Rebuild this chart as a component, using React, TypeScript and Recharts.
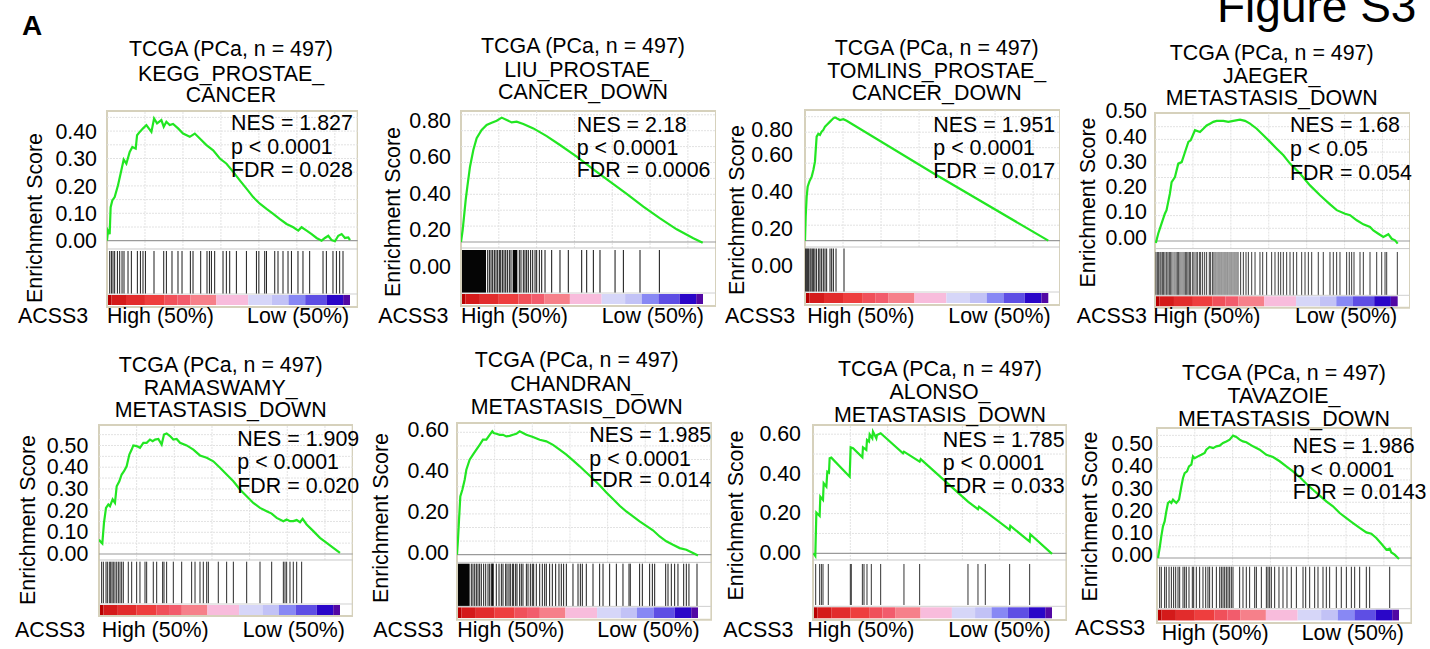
import React from 'react';
import { ComposedChart, Line, XAxis, YAxis, ReferenceLine, ReferenceArea } from 'recharts';

const FONT = '"Liberation Sans", Arial, Helvetica, sans-serif';
const FS = 21.4;
const LIST_LEN = 32; // ranked list length (thousands of genes)
const rankGrid = [5, 10, 15, 20, 25, 30];

// ranked-list colour bar (rank boundaries, thousands) and colours
const cbarEdges = [0, 0.6, 2.5, 5.0, 7.6, 9.3, 11.0, 14.4, 18.6, 21.7, 23.9, 26.1, 28.9, 31.1, 32];
const cbarColors = ['#b80000', '#d41a1a', '#e22c2c', '#ee3e3e', '#f0505a', '#f25c6c', '#f6808a', '#f8bcdc', '#d6d6f8', '#c2c2f6', '#8888f4', '#5e4ee4', '#2a06c8', '#5208a4'];

const titles = [
  ['TCGA (PCa, n = 497)', 'KEGG_PROSTAE_', 'CANCER'],
  ['TCGA (PCa, n = 497)', 'LIU_PROSTAE_', 'CANCER_DOWN'],
  ['TCGA (PCa, n = 497)', 'TOMLINS_PROSTAE_', 'CANCER_DOWN'],
  ['TCGA (PCa, n = 497)', 'JAEGER_', 'METASTASIS_DOWN'],
  ['TCGA (PCa, n = 497)', 'RAMASWAMY_', 'METASTASIS_DOWN'],
  ['TCGA (PCa, n = 497)', 'CHANDRAN_', 'METASTASIS_DOWN'],
  ['TCGA (PCa, n = 497)', 'ALONSO_', 'METASTASIS_DOWN'],
  ['TCGA (PCa, n = 497)', 'TAVAZOIE_', 'METASTASIS_DOWN'],
];
const stats = [
  ['NES = 1.827', 'p < 0.0001', 'FDR = 0.028'],
  ['NES = 2.18', 'p < 0.0001', 'FDR = 0.0006'],
  ['NES = 1.951', 'p < 0.0001', 'FDR = 0.017'],
  ['NES = 1.68', 'p < 0.05', 'FDR = 0.054'],
  ['NES = 1.909', 'p < 0.0001', 'FDR = 0.020'],
  ['NES = 1.985', 'p < 0.0001', 'FDR = 0.014'],
  ['NES = 1.785', 'p < 0.0001', 'FDR = 0.033'],
  ['NES = 1.986', 'p < 0.0001', 'FDR = 0.0143'],
];
const yTicks01 = [0, 0.1, 0.2, 0.3, 0.4];
const yTicks01b = [0, 0.1, 0.2, 0.3, 0.4, 0.5];
const yTicks02 = [0, 0.2, 0.4, 0.6, 0.8];
const yTicks02b = [0, 0.2, 0.4, 0.6];

// ---- running enrichment score curves [rank (thousands), ES] and hit ranks ----
const keggCurve = [[0,0],[0.13,0.037],[0.35,0.024],[0.48,0.122],[0.70,0.147],[1.01,0.159],[1.45,0.202],[1.89,0.257],[2.20,0.296],[2.55,0.281],[2.99,0.324],[3.34,0.342],[3.78,0.336],[3.96,0.385],[4.31,0.397],[4.75,0.410],[5.19,0.422],[5.85,0.397],[6.20,0.446],[6.59,0.428],[7.16,0.440],[7.47,0.416],[7.82,0.434],[8.26,0.422],[8.70,0.426],[9.36,0.410],[10.02,0.391],[10.90,0.379],[11.56,0.391],[12.22,0.373],[13.10,0.349],[13.98,0.330],[14.86,0.300],[15.74,0.281],[16.62,0.251],[17.49,0.220],[18.37,0.190],[19.25,0.159],[20.13,0.135],[21.01,0.116],[21.89,0.098],[22.77,0.079],[23.65,0.061],[24.53,0.049],[25.19,0.037],[25.63,0.049],[26.29,0.037],[26.95,0.024],[27.60,0.010],[28.26,0.000],[28.70,0.010],[29.14,0.018],[29.58,0.002],[30.02,-0.002],[30.46,0.018],[30.90,0.024],[31.34,0.010],[31.78,0.012],[32.0,0.002]];
const keggHits = [0.36,0.58,0.79,1.01,1.37,1.67,1.98,2.24,2.77,3.21,4.0,4.4,4.74,5.06,6.19,7.47,7.82,8.56,9.35,9.88,10.98,11.33,12.34,13.17,13.49,13.75,14.18,15.28,15.72,16.16,17.04,18.36,19.68,20.0,20.77,21.0,22.09,22.52,23.18,23.84,24.29,25.15,25.81,26.69,28.45,28.89,29.76,30.21,30.64,31.08];

const liuCurve = [[0,0.1315],[0.22,0.197],[0.40,0.270],[0.62,0.362],[0.84,0.435],[1.19,0.544],[1.63,0.636],[2.07,0.700],[2.73,0.745],[3.39,0.773],[4.06,0.785],[4.72,0.796],[5.38,0.813],[6.04,0.800],[6.70,0.787],[7.36,0.791],[8.24,0.778],[9.57,0.754],[11.33,0.712],[13.09,0.663],[15.30,0.599],[17.50,0.530],[19.70,0.462],[21.91,0.395],[24.11,0.325],[26.32,0.261],[28.52,0.201],[30.72,0.152],[31.96,0.128]];
const liuHits = [3.53,3.75,3.97,4.19,4.41,4.63,4.85,5.07,5.25,5.47,5.69,5.91,6.13,6.39,6.61,7.71,7.93,8.24,8.46,8.68,8.90,9.21,9.48,9.79,10.01,10.36,10.67,11.11,11.99,13.09,14.19,15.96,16.62,17.50,18.38,20.37,21.47,23.67,26.23];
const liuBandStart = [0, 6.83];
const liuBandEnd = [3.31, 7.45];

const tomlinsCurve = [[0,0.132],[0.09,0.262],[0.22,0.370],[0.35,0.424],[0.57,0.452],[0.88,0.479],[1.10,0.515],[1.31,0.560],[1.53,0.696],[1.75,0.711],[1.97,0.705],[2.19,0.723],[2.41,0.732],[2.63,0.750],[2.85,0.759],[3.29,0.777],[3.73,0.795],[3.94,0.800],[4.16,0.795],[4.60,0.786],[5.04,0.790],[5.48,0.782],[16.88,0.497],[32.0,0.132]];
const tomlinsHits = [0.088,0.22,0.35,0.48,0.66,0.79,0.96,1.14,1.31,1.53,1.80,1.97,2.19,2.41,2.63,2.85,3.29,3.51,3.73,4.08,5.13];

const jaegerCurve = [[0.11,-0.024],[0.42,0.013],[0.86,0.053],[1.30,0.092],[1.52,0.106],[1.96,0.171],[2.19,0.217],[2.63,0.237],[3.07,0.290],[3.52,0.296],[3.96,0.336],[4.40,0.376],[4.70,0.382],[5.27,0.422],[5.93,0.415],[6.37,0.428],[6.81,0.441],[7.25,0.448],[7.69,0.455],[8.13,0.459],[9.01,0.459],[9.67,0.455],[10.33,0.459],[11.21,0.464],[11.87,0.459],[12.53,0.448],[13.41,0.428],[14.29,0.402],[15.17,0.376],[16.05,0.349],[16.93,0.323],[17.80,0.290],[19.12,0.251],[20.44,0.204],[21.76,0.165],[23.08,0.129],[23.96,0.106],[25.06,0.092],[25.72,0.086],[26.60,0.066],[27.47,0.050],[28.35,0.040],[28.79,0.026],[29.45,0.013],[30.11,0.000],[30.77,0.011],[31.21,-0.007],[31.65,-0.013],[32.0,-0.026]];
const jaegerHits = [0.13,0.31,0.48,0.66,0.79,0.97,1.14,1.32,1.54,1.71,1.89,2.07,2.24,2.51,2.77,2.94,3.12,3.30,3.56,3.82,4.00,4.18,4.35,4.53,4.70,4.97,5.14,5.41,5.58,5.85,6.02,6.28,6.55,6.81,7.16,7.34,7.60,7.78,8.04,8.31,8.57,8.83,9.10,9.36,9.62,9.89,10.15,10.42,10.68,10.94,11.29,11.65,12.0,12.31,12.75,13.19,13.84,14.2,14.72,15.38,15.82,16.26,16.57,16.92,17.36,17.80,18.24,18.68,19.34,19.78,20.22,20.66,21.53,22.19,23.07,23.51,23.95,24.39,25.27,25.62,25.93,26.24,27.03,27.47,28.35,29.23,29.89,30.33,30.55,31.95];

const ramaCurve = [[0,0.0645],[0.13,0.057],[0.44,0.046],[0.66,0.141],[0.93,0.210],[1.24,0.226],[1.46,0.218],[1.81,0.249],[2.12,0.233],[2.35,0.310],[2.70,0.333],[3.01,0.364],[3.32,0.379],[3.67,0.402],[4.03,0.456],[4.34,0.479],[4.56,0.498],[5.0,0.495],[5.44,0.487],[5.89,0.510],[6.33,0.510],[6.77,0.525],[7.13,0.518],[7.44,0.525],[7.88,0.528],[8.32,0.502],[8.63,0.548],[8.98,0.553],[9.43,0.541],[9.87,0.525],[10.31,0.528],[10.76,0.510],[11.64,0.498],[12.53,0.479],[13.41,0.452],[14.30,0.441],[15.18,0.425],[16.07,0.395],[16.95,0.364],[17.84,0.333],[18.72,0.295],[19.61,0.264],[20.49,0.233],[21.38,0.210],[22.26,0.195],[22.93,0.184],[23.59,0.164],[24.48,0.149],[24.92,0.157],[25.36,0.149],[25.80,0.149],[26.25,0.154],[26.69,0.144],[27.04,0.160],[27.57,0.134],[28.46,0.103],[29.34,0.072],[30.23,0.049],[31.11,0.026],[32.0,0.003]];
const ramaHits = [0.35,0.58,0.93,1.11,1.37,1.55,1.73,1.90,2.12,2.35,2.57,2.79,3.01,3.23,3.89,4.34,5.0,5.44,6.11,6.33,7.21,7.66,8.45,8.63,8.98,9.87,10.98,12.30,12.75,13.41,13.85,14.30,14.52,15.84,16.95,17.84,19.61,21.38,22.93,24.48,24.70,24.92,25.36,25.80,26.25,26.91];

const chandranCurve = [[0,-0.011],[0.13,0.062],[0.27,0.160],[0.44,0.274],[0.71,0.306],[1.02,0.355],[1.24,0.404],[1.68,0.453],[2.12,0.478],[2.57,0.502],[3.01,0.526],[3.45,0.551],[3.89,0.551],[4.34,0.575],[4.69,0.592],[4.87,0.584],[5.22,0.580],[5.67,0.575],[6.11,0.575],[6.55,0.567],[6.99,0.570],[7.44,0.575],[7.88,0.580],[8.32,0.592],[8.76,0.584],[9.21,0.575],[10.09,0.564],[10.98,0.551],[11.86,0.543],[12.75,0.526],[13.63,0.502],[14.52,0.478],[15.40,0.450],[16.29,0.421],[17.17,0.391],[18.06,0.360],[18.94,0.328],[19.83,0.293],[20.71,0.261],[21.60,0.228],[22.48,0.200],[23.37,0.176],[24.25,0.152],[25.14,0.130],[26.02,0.108],[26.91,0.078],[27.79,0.054],[28.68,0.037],[29.57,0.021],[30.45,0.013],[31.34,-0.003],[32.0,-0.015]];
const chandranHits = [1.90,2.12,2.35,2.57,2.79,3.01,3.23,3.54,3.81,4.12,4.34,4.56,4.78,5.22,5.58,5.89,6.11,6.46,6.64,6.90,7.08,7.35,7.52,7.79,7.97,8.32,8.54,8.76,9.21,9.43,9.74,10.0,10.18,10.53,10.98,11.33,11.64,11.86,12.30,12.66,13.10,13.54,13.85,14.16,14.52,15.40,16.07,16.38,16.64,17.17,18.06,18.94,19.39,20.27,21.16,22.04,22.84,23.01,24.25,24.61,25.58,25.94,26.25,27.71,28.02,28.46,28.90,29.34,30.10,30.45,30.80,31.87];
const chandranBandStart = [0.13, 4.6];
const chandranBandEnd = [1.68, 4.85];

const alonsoCurve = [[0.09,-0.005],[0.31,-0.018],[0.45,0.200],[0.89,0.183],[0.98,0.280],[1.34,0.264],[1.43,0.348],[1.79,0.331],[1.92,0.406],[2.14,0.401],[2.23,0.474],[2.45,0.477],[4.91,0.381],[5.04,0.529],[5.36,0.524],[6.61,0.479],[6.69,0.529],[7.14,0.516],[7.23,0.566],[7.50,0.558],[7.59,0.594],[7.94,0.574],[8.03,0.608],[8.48,0.574],[8.57,0.591],[9.06,0.600],[12.05,0.499],[12.18,0.507],[14.28,0.457],[14.42,0.469],[20.75,0.255],[22.09,0.217],[22.23,0.230],[23.21,0.202],[26.33,0.113],[26.42,0.133],[29.01,0.054],[29.10,0.091],[32.0,-0.008]];
const alonsoHits = [0.36,0.89,1.12,1.34,2.05,5.0,5.13,6.61,6.83,7.23,7.81,9.06,12.18,14.28,20.75,22.09,23.07,26.33,29.01];

const tavCurve = [[0.13,-0.015],[0.35,0.030],[0.57,0.082],[0.79,0.127],[1.01,0.149],[1.23,0.194],[1.45,0.232],[1.68,0.239],[1.90,0.232],[2.12,0.247],[2.34,0.239],[2.56,0.232],[2.91,0.247],[3.22,0.306],[3.44,0.344],[3.66,0.366],[3.97,0.374],[4.23,0.396],[4.54,0.404],[4.76,0.441],[4.98,0.433],[5.42,0.441],[5.86,0.448],[6.30,0.456],[6.52,0.471],[6.96,0.483],[7.41,0.478],[7.85,0.486],[8.29,0.489],[8.73,0.501],[9.17,0.508],[9.61,0.516],[10.05,0.534],[10.49,0.528],[10.93,0.516],[11.37,0.508],[11.81,0.504],[12.70,0.486],[13.58,0.471],[14.46,0.448],[15.34,0.438],[16.22,0.419],[17.10,0.396],[17.98,0.374],[18.87,0.348],[19.75,0.318],[20.63,0.291],[21.51,0.265],[22.39,0.239],[23.27,0.217],[24.16,0.187],[25.04,0.164],[25.92,0.142],[26.80,0.120],[27.68,0.100],[28.34,0.094],[29.00,0.075],[29.67,0.049],[30.33,0.022],[30.77,0.027],[30.99,0.010],[31.43,0.000],[32.0,-0.019]];
const tavHits = [0.35,0.57,1.01,1.23,1.59,1.90,2.20,2.47,2.78,3.00,3.44,3.66,3.88,4.23,4.67,4.85,5.20,5.64,6.08,6.44,6.74,6.96,7.32,7.85,8.29,8.51,8.73,8.95,9.17,9.39,9.61,9.83,10.05,10.93,11.37,11.81,12.25,12.92,13.14,13.80,14.46,14.68,14.90,15.12,15.56,16.13,16.66,17.19,17.76,18.43,19.31,19.66,20.19,20.85,21.29,21.95,22.39,22.83,23.71,24.37,25.04,25.70,26.14,26.80,27.68,28.12,30.77];

type Geo = {
  L: number; T: number; R: number; B: number; cbarR: number;
  zero: number; sep: number; hitsTop: number; hitsBot: number; cbarTop: number; cbarBot: number;
  tickZero: number; ppu: number; gridPx: number; tickGap: number;
};
type TextPos = {
  titleCx: number; titleY: number[]; statX: number; statY: number[];
  ylabX: number; ylabY: number; acssX: number; highX: number; lowX: number; labY: number; hlY?: number;
};

const panels = [
  { curve: keggCurve, hits: keggHits, bands: [] as number[][], ticks: yTicks01, offs: {}, hitColor: '#1c1c1c',
    g: { L: 107.3, T: 111, R: 358, B: 307, cbarR: 350.3, zero: 240.7, sep: 249, hitsTop: 251, hitsBot: 294, cbarTop: 295, cbarBot: 305, tickZero: 240.7, ppu: 274, gridPx: 13.7, tickGap: 10 },
    t: { titleCx: 231, titleY: [56, 80.5, 102], statX: 231, statY: [130, 153.5, 177], ylabX: 34, ylabY: 218, acssX: 18, highX: 107, lowX: 247, labY: 323 } },
  { curve: liuCurve, hits: liuHits, bands: liuBandStart.map((s, i) => [s, liuBandEnd[i]]), ticks: yTicks02, offs: {}, hitColor: '#111',
    g: { L: 461, T: 111, R: 716, B: 306, cbarR: 703, zero: 242, sep: 248, hitsTop: 250, hitsBot: 293, cbarTop: 294, cbarBot: 304, tickZero: 266, ppu: 182.5, gridPx: 15.9, tickGap: 10 },
    t: { titleCx: 583, titleY: [53, 77, 98.5], statX: 576.7, statY: [131.7, 155, 177], ylabX: 392.3, ylabY: 212, acssX: 378.3, highX: 461, lowX: 601.7, labY: 323.3 } },
  { curve: tomlinsCurve, hits: tomlinsHits, bands: [] as number[][], ticks: yTicks02, offs: { '0.80': 12 }, hitColor: '#1c1c1c',
    g: { L: 805, T: 110, R: 1060, B: 305, cbarR: 1048.3, zero: 240.7, sep: 247, hitsTop: 248.5, hitsBot: 292, cbarTop: 293, cbarBot: 303, tickZero: 265, ppu: 184.5, gridPx: 15.5, tickGap: 12 },
    t: { titleCx: 936.7, titleY: [55, 78.3, 100], statX: 933.3, statY: [131.7, 155, 178.3], ylabX: 736.7, ylabY: 210, acssX: 725, highX: 807.3, lowX: 948.3, labY: 323 } },
  { curve: jaegerCurve, hits: jaegerHits, bands: [] as number[][], ticks: yTicks01b, offs: {}, hitColor: '#3a3a3a',
    g: { L: 1155, T: 112.7, R: 1410, B: 307.5, cbarR: 1397.7, zero: 240.7, sep: 248.3, hitsTop: 251.7, hitsBot: 295, cbarTop: 296, cbarBot: 306, tickZero: 236.7, ppu: 253, gridPx: 12.7, tickGap: 8 },
    t: { titleCx: 1271.7, titleY: [60, 83.3, 105], statX: 1290, statY: [131.7, 156, 180], ylabX: 1087.3, ylabY: 202.5, acssX: 1076.7, highX: 1153.3, lowX: 1295, labY: 322.7 } },
  { curve: ramaCurve, hits: ramaHits, bands: [] as number[][], ticks: yTicks01b, offs: {}, hitColor: '#2a2a2a',
    g: { L: 99, T: 425, R: 352.7, B: 616, cbarR: 340, zero: 554, sep: 560, hitsTop: 561.7, hitsBot: 603.3, cbarTop: 605, cbarBot: 615, tickZero: 553.5, ppu: 217, gridPx: 10.85, tickGap: 10.7 },
    t: { titleCx: 220.7, titleY: [371.7, 395, 417.3], statX: 237.3, statY: [446, 469.3, 492.7], ylabX: 27.3, ylabY: 520, acssX: 15, highX: 101.7, lowX: 242.7, labY: 636.7 } },
  { curve: chandranCurve, hits: chandranHits, bands: chandranBandStart.map((s, i) => [s, chandranBandEnd[i]]), ticks: yTicks02b, offs: {}, hitColor: '#1c1c1c',
    g: { L: 457.3, T: 423.3, R: 711.7, B: 620, cbarR: 698.3, zero: 555, sep: 562.7, hitsTop: 564, hitsBot: 606.7, cbarTop: 607.7, cbarBot: 618.3, tickZero: 552.7, ppu: 204.5, gridPx: 13.6, tickGap: 8 },
    t: { titleCx: 576.7, titleY: [367.3, 390.7, 414], statX: 589.3, statY: [441.7, 466, 487.3], ylabX: 380.7, ylabY: 518, acssX: 373.3, highX: 457.3, lowX: 597.3, labY: 636.7 } },
  { curve: alonsoCurve, hits: alonsoHits, bands: [] as number[][], ticks: yTicks02b, offs: {}, hitColor: '#333',
    g: { L: 813.3, T: 425, R: 1066.7, B: 620, cbarR: 1052.3, zero: 553.3, sep: 560, hitsTop: 564, hitsBot: 605, cbarTop: 607.3, cbarBot: 618.3, tickZero: 552.3, ppu: 198.5, gridPx: 19.85, tickGap: 12 },
    t: { titleCx: 940, titleY: [376, 399.3, 421.7], statX: 942.7, statY: [446.7, 470, 492.7], ylabX: 735.7, ylabY: 515.5, acssX: 723.3, highX: 807.3, lowX: 948.3, labY: 636.7 } },
  { curve: tavCurve, hits: tavHits, bands: [] as number[][], ticks: yTicks01b, offs: {}, hitColor: '#2a2a2a',
    g: { L: 1157.3, T: 428.3, R: 1411.7, B: 623.3, cbarR: 1399.3, zero: 558.3, sep: 566, hitsTop: 567, hitsBot: 608.3, cbarTop: 610, cbarBot: 620.7, tickZero: 555, ppu: 223, gridPx: 11.15, tickGap: 4 },
    t: { titleCx: 1284, titleY: [380, 403.3, 426], statX: 1292.7, statY: [453.3, 476.7, 499.3], ylabX: 1089, ylabY: 516.5, acssX: 1075, highX: 1161.7, lowX: 1301.7, labY: 635, hlY: 640 } },
];

const makeTick = (offs: Record<string, number>) => (props: any) => {
  const { x, y, payload } = props;
  const label = Number(payload.value).toFixed(2);
  const dy = offs[label] ?? 0;
  return (
    <text x={x} y={y + dy} dy="0.36em" textAnchor="end" fill="#000" fontSize={FS} fontFamily={FONT}>
      {label}
    </text>
  );
};

const YW = 70;
const PAD_TOP = 16;
const PAD_BOT = 6;

function GseaPanel({ p }: { p: typeof panels[number] }) {
  const g: Geo = p.g;
  const xMax = (LIST_LEN * (g.R - g.L)) / (g.cbarR - g.L);
  const v = (py: number) => (g.tickZero - py) / g.ppu;
  const top = g.T - PAD_TOP;
  const bottom = g.B + PAD_BOT;
  const data = p.curve.map(([r, es]) => ({ r, es }));
  const gridYs: number[] = [];
  for (let py = g.zero - g.gridPx; py > g.T + 3; py -= g.gridPx) gridYs.push(v(py));
  const grid = '#e2e2e2';
  return (
    <div style={{ position: 'absolute', left: g.L - YW, top }}>
      <ComposedChart width={YW + g.R - g.L} height={bottom - top} data={data} margin={{ top: 0, right: 0, bottom: 0, left: 0 }}>
        <XAxis type="number" dataKey="r" domain={[0, xMax]} hide allowDataOverflow />
        <YAxis
          type="number"
          domain={[v(bottom), v(top)]}
          ticks={p.ticks}
          interval={0}
          width={YW}
          axisLine={false}
          tickLine={false}
          tickSize={0}
          tickMargin={g.tickGap}
          tick={makeTick(p.offs as Record<string, number>)}
          allowDataOverflow
        />
        {gridYs.map((y, i) => (
          <ReferenceLine key={'gy' + i} segment={[{ x: 0, y }, { x: xMax, y }]} stroke={grid} strokeDasharray="2 1" />
        ))}
        {rankGrid.map((r) => (
          <ReferenceLine key={'gx' + r} segment={[{ x: r, y: v(g.sep) }, { x: r, y: v(g.T) }]} stroke={grid} strokeDasharray="2 1" />
        ))}
        {cbarColors.map((c, i) => (
          <ReferenceArea key={'cb' + i} x1={cbarEdges[i]} x2={cbarEdges[i + 1]} y1={v(g.cbarBot)} y2={v(g.cbarTop)} fill={c} fillOpacity={1} stroke="none" />
        ))}
        {p.bands.map(([s, e], i) => (
          <ReferenceArea key={'bd' + i} x1={s} x2={e} y1={v(g.hitsBot)} y2={v(g.hitsTop)} fill="#050505" fillOpacity={1} stroke="none" />
        ))}
        {p.hits.map((h, i) => (
          <ReferenceLine key={'h' + i} segment={[{ x: h, y: v(g.hitsBot) }, { x: h, y: v(g.hitsTop) }]} stroke={p.hitColor} strokeWidth={1} />
        ))}
        <ReferenceLine segment={[{ x: 0, y: v(g.sep) }, { x: xMax, y: v(g.sep) }]} stroke="#c8c8c8" strokeWidth={1} />
        <ReferenceLine segment={[{ x: 0, y: v(g.cbarTop - 1) }, { x: xMax, y: v(g.cbarTop - 1) }]} stroke="#d0d0d0" strokeWidth={1} />
        <ReferenceLine segment={[{ x: 0, y: v(g.zero) }, { x: xMax, y: v(g.zero) }]} stroke="#9a9a9a" strokeWidth={1.2} />
        <ReferenceArea x1={0} x2={xMax} y1={v(g.B)} y2={v(g.T)} fill="none" stroke="#d6d1bc" strokeWidth={2} />
        <Line type="linear" dataKey="es" stroke="#22e622" strokeWidth={2.2} dot={false} isAnimationActive={false} />
      </ComposedChart>
    </div>
  );
}

function PanelText({ p, i }: { p: typeof panels[number]; i: number }) {
  const t: TextPos = p.t;
  const common = { fontSize: FS, fontFamily: FONT, fill: '#000' };
  return (
    <g>
      {titles[i].map((s, k) => (
        <text key={'t' + k} x={t.titleCx} y={t.titleY[k]} textAnchor="middle" {...common}>{s}</text>
      ))}
      {stats[i].map((s, k) => (
        <text key={'s' + k} x={t.statX} y={t.statY[k]} {...common}>{s}</text>
      ))}
      <text transform={`translate(${t.ylabX},${t.ylabY}) rotate(-90)`} textAnchor="middle" dy="0.36em" {...common}>Enrichment Score</text>
      <text x={t.acssX} y={t.labY} {...common}>ACSS3</text>
      <text x={t.highX} y={t.hlY ?? t.labY} {...common}>High (50%)</text>
      <text x={t.lowX} y={t.hlY ?? t.labY} {...common}>Low (50%)</text>
    </g>
  );
}

export default function App() {
  return (
    <div style={{ position: 'absolute', left: 0, top: 0, width: 1430, height: 649, background: '#fff', overflow: 'hidden' }}>
      {panels.map((p, i) => (
        <GseaPanel key={i} p={p} />
      ))}
      <svg width={1430} height={649} style={{ position: 'absolute', left: 0, top: 0, pointerEvents: 'none' }}>
        <text x={22} y={35} fontSize={28} fontWeight="bold" fontFamily={FONT} fill="#000">A</text>
        <text x={1217} y={22} fontSize={46} fontFamily={FONT} fill="#000">Figure S3</text>
        {panels.map((p, i) => (
          <PanelText key={i} p={p} i={i} />
        ))}
      </svg>
    </div>
  );
}
